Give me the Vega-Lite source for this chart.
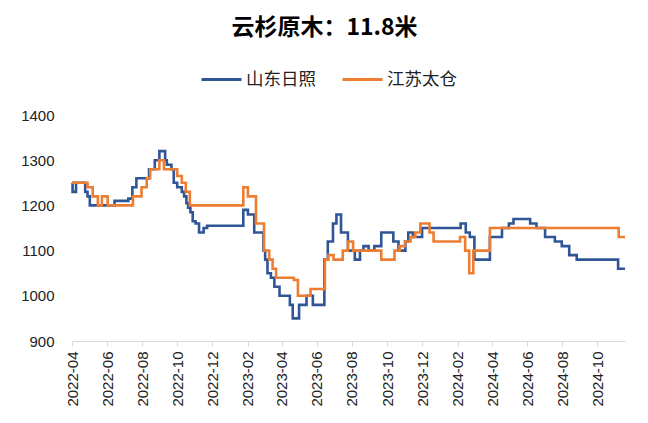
{
  "$schema": "https://vega.github.io/schema/vega-lite/v6.json",
  "width": 553,
  "height": 226,
  "autosize": {"type": "none"},
  "padding": {"left": 72, "top": 115, "right": 23, "bottom": 82},
  "background": "white",
  "title": {"text": "云杉原木：11.8米", "font": "Noto Sans CJK SC", "fontSize": 23, "fontWeight": "bold", "color": "#000000", "anchor": "middle", "dx": -24, "offset": 18},
  "config": {"view": {"stroke": null}},
  "data": {"values": [
    {"d": "2022-04-01", "v": 1250, "s": "山东日照"},
    {"d": "2022-04-02", "v": 1230, "s": "山东日照"},
    {"d": "2022-04-08", "v": 1250, "s": "山东日照"},
    {"d": "2022-04-24", "v": 1230, "s": "山东日照"},
    {"d": "2022-04-28", "v": 1220, "s": "山东日照"},
    {"d": "2022-05-02", "v": 1200, "s": "山东日照"},
    {"d": "2022-06-14", "v": 1210, "s": "山东日照"},
    {"d": "2022-07-08", "v": 1215, "s": "山东日照"},
    {"d": "2022-07-15", "v": 1240, "s": "山东日照"},
    {"d": "2022-07-22", "v": 1260, "s": "山东日照"},
    {"d": "2022-08-13", "v": 1280, "s": "山东日照"},
    {"d": "2022-08-23", "v": 1300, "s": "山东日照"},
    {"d": "2022-08-31", "v": 1320, "s": "山东日照"},
    {"d": "2022-09-10", "v": 1300, "s": "山东日照"},
    {"d": "2022-09-13", "v": 1290, "s": "山东日照"},
    {"d": "2022-09-21", "v": 1280, "s": "山东日照"},
    {"d": "2022-09-25", "v": 1250, "s": "山东日照"},
    {"d": "2022-10-01", "v": 1240, "s": "山东日照"},
    {"d": "2022-10-09", "v": 1230, "s": "山东日照"},
    {"d": "2022-10-13", "v": 1220, "s": "山东日照"},
    {"d": "2022-10-17", "v": 1205, "s": "山东日照"},
    {"d": "2022-10-20", "v": 1195, "s": "山东日照"},
    {"d": "2022-10-24", "v": 1185, "s": "山东日照"},
    {"d": "2022-10-28", "v": 1165, "s": "山东日照"},
    {"d": "2022-11-02", "v": 1160, "s": "山东日照"},
    {"d": "2022-11-08", "v": 1140, "s": "山东日照"},
    {"d": "2022-11-16", "v": 1150, "s": "山东日照"},
    {"d": "2022-11-22", "v": 1155, "s": "山东日照"},
    {"d": "2023-01-24", "v": 1190, "s": "山东日照"},
    {"d": "2023-02-01", "v": 1180, "s": "山东日照"},
    {"d": "2023-02-12", "v": 1140, "s": "山东日照"},
    {"d": "2023-02-28", "v": 1100, "s": "山东日照"},
    {"d": "2023-03-03", "v": 1080, "s": "山东日照"},
    {"d": "2023-03-07", "v": 1050, "s": "山东日照"},
    {"d": "2023-03-13", "v": 1040, "s": "山东日照"},
    {"d": "2023-03-19", "v": 1020, "s": "山东日照"},
    {"d": "2023-03-28", "v": 1000, "s": "山东日照"},
    {"d": "2023-04-15", "v": 980, "s": "山东日照"},
    {"d": "2023-04-20", "v": 950, "s": "山东日照"},
    {"d": "2023-05-01", "v": 980, "s": "山东日照"},
    {"d": "2023-05-14", "v": 1000, "s": "山东日照"},
    {"d": "2023-05-25", "v": 980, "s": "山东日照"},
    {"d": "2023-06-14", "v": 1080, "s": "山东日照"},
    {"d": "2023-06-20", "v": 1120, "s": "山东日照"},
    {"d": "2023-06-29", "v": 1160, "s": "山东日照"},
    {"d": "2023-07-05", "v": 1180, "s": "山东日照"},
    {"d": "2023-07-13", "v": 1140, "s": "山东日照"},
    {"d": "2023-07-25", "v": 1100, "s": "山东日照"},
    {"d": "2023-08-06", "v": 1080, "s": "山东日照"},
    {"d": "2023-08-15", "v": 1100, "s": "山东日照"},
    {"d": "2023-08-21", "v": 1110, "s": "山东日照"},
    {"d": "2023-08-30", "v": 1100, "s": "山东日照"},
    {"d": "2023-09-09", "v": 1110, "s": "山东日照"},
    {"d": "2023-09-21", "v": 1140, "s": "山东日照"},
    {"d": "2023-10-12", "v": 1120, "s": "山东日照"},
    {"d": "2023-10-21", "v": 1100, "s": "山东日照"},
    {"d": "2023-11-02", "v": 1120, "s": "山东日照"},
    {"d": "2023-11-07", "v": 1140, "s": "山东日照"},
    {"d": "2023-11-15", "v": 1130, "s": "山东日照"},
    {"d": "2023-12-01", "v": 1150, "s": "山东日照"},
    {"d": "2024-02-06", "v": 1160, "s": "山东日照"},
    {"d": "2024-02-15", "v": 1140, "s": "山东日照"},
    {"d": "2024-02-22", "v": 1130, "s": "山东日照"},
    {"d": "2024-03-01", "v": 1080, "s": "山东日照"},
    {"d": "2024-03-28", "v": 1130, "s": "山东日照"},
    {"d": "2024-04-18", "v": 1150, "s": "山东日照"},
    {"d": "2024-04-30", "v": 1160, "s": "山东日照"},
    {"d": "2024-05-08", "v": 1170, "s": "山东日照"},
    {"d": "2024-06-06", "v": 1160, "s": "山东日照"},
    {"d": "2024-06-17", "v": 1150, "s": "山东日照"},
    {"d": "2024-07-02", "v": 1130, "s": "山东日照"},
    {"d": "2024-07-19", "v": 1120, "s": "山东日照"},
    {"d": "2024-07-31", "v": 1110, "s": "山东日照"},
    {"d": "2024-08-13", "v": 1090, "s": "山东日照"},
    {"d": "2024-08-26", "v": 1080, "s": "山东日照"},
    {"d": "2024-11-06", "v": 1060, "s": "山东日照"},
    {"d": "2024-11-18", "v": 1060, "s": "山东日照"},
    {"d": "2022-04-01", "v": 1250, "s": "江苏太仓"},
    {"d": "2022-04-28", "v": 1240, "s": "江苏太仓"},
    {"d": "2022-05-07", "v": 1220, "s": "江苏太仓"},
    {"d": "2022-05-16", "v": 1200, "s": "江苏太仓"},
    {"d": "2022-05-23", "v": 1220, "s": "江苏太仓"},
    {"d": "2022-06-02", "v": 1200, "s": "江苏太仓"},
    {"d": "2022-07-16", "v": 1220, "s": "江苏太仓"},
    {"d": "2022-07-31", "v": 1240, "s": "江苏太仓"},
    {"d": "2022-08-09", "v": 1260, "s": "江苏太仓"},
    {"d": "2022-08-15", "v": 1280, "s": "江苏太仓"},
    {"d": "2022-08-31", "v": 1300, "s": "江苏太仓"},
    {"d": "2022-09-08", "v": 1280, "s": "江苏太仓"},
    {"d": "2022-10-01", "v": 1265, "s": "江苏太仓"},
    {"d": "2022-10-09", "v": 1250, "s": "江苏太仓"},
    {"d": "2022-10-16", "v": 1230, "s": "江苏太仓"},
    {"d": "2022-10-23", "v": 1200, "s": "江苏太仓"},
    {"d": "2023-01-24", "v": 1240, "s": "江苏太仓"},
    {"d": "2023-02-01", "v": 1220, "s": "江苏太仓"},
    {"d": "2023-02-15", "v": 1160, "s": "江苏太仓"},
    {"d": "2023-03-01", "v": 1100, "s": "江苏太仓"},
    {"d": "2023-03-10", "v": 1080, "s": "江苏太仓"},
    {"d": "2023-03-16", "v": 1060, "s": "江苏太仓"},
    {"d": "2023-03-22", "v": 1040, "s": "江苏太仓"},
    {"d": "2023-04-22", "v": 1035, "s": "江苏太仓"},
    {"d": "2023-04-29", "v": 1000, "s": "江苏太仓"},
    {"d": "2023-05-21", "v": 1015, "s": "江苏太仓"},
    {"d": "2023-06-15", "v": 1080, "s": "江苏太仓"},
    {"d": "2023-06-21", "v": 1090, "s": "江苏太仓"},
    {"d": "2023-06-30", "v": 1080, "s": "江苏太仓"},
    {"d": "2023-07-16", "v": 1100, "s": "江苏太仓"},
    {"d": "2023-07-25", "v": 1120, "s": "江苏太仓"},
    {"d": "2023-08-03", "v": 1100, "s": "江苏太仓"},
    {"d": "2023-09-21", "v": 1080, "s": "江苏太仓"},
    {"d": "2023-10-14", "v": 1100, "s": "江苏太仓"},
    {"d": "2023-10-23", "v": 1110, "s": "江苏太仓"},
    {"d": "2023-11-01", "v": 1120, "s": "江苏太仓"},
    {"d": "2023-11-11", "v": 1130, "s": "江苏太仓"},
    {"d": "2023-11-19", "v": 1140, "s": "江苏太仓"},
    {"d": "2023-11-28", "v": 1160, "s": "江苏太仓"},
    {"d": "2023-12-14", "v": 1140, "s": "江苏太仓"},
    {"d": "2023-12-21", "v": 1120, "s": "江苏太仓"},
    {"d": "2024-02-05", "v": 1130, "s": "江苏太仓"},
    {"d": "2024-02-14", "v": 1100, "s": "江苏太仓"},
    {"d": "2024-02-21", "v": 1050, "s": "江苏太仓"},
    {"d": "2024-02-28", "v": 1100, "s": "江苏太仓"},
    {"d": "2024-03-28", "v": 1150, "s": "江苏太仓"},
    {"d": "2024-11-07", "v": 1130, "s": "江苏太仓"},
    {"d": "2024-11-18", "v": 1130, "s": "江苏太仓"}
  ]},
  "mark": {"type": "line", "interpolate": "step-after", "strokeWidth": 2.6},
  "encoding": {
    "x": {
      "field": "d", "type": "temporal",
      "scale": {"type": "utc", "domain": [{"year": 2022, "month": 4, "date": 1, "utc": true}, {"year": 2024, "month": 11, "date": 18, "utc": true}]},
      "axis": {
        "title": null, "grid": false,
        "values": [
          {"year": 2022, "month": 4, "date": 1, "utc": true},
          {"year": 2022, "month": 6, "date": 1, "utc": true},
          {"year": 2022, "month": 8, "date": 1, "utc": true},
          {"year": 2022, "month": 10, "date": 1, "utc": true},
          {"year": 2022, "month": 12, "date": 1, "utc": true},
          {"year": 2023, "month": 2, "date": 1, "utc": true},
          {"year": 2023, "month": 4, "date": 1, "utc": true},
          {"year": 2023, "month": 6, "date": 1, "utc": true},
          {"year": 2023, "month": 8, "date": 1, "utc": true},
          {"year": 2023, "month": 10, "date": 1, "utc": true},
          {"year": 2023, "month": 12, "date": 1, "utc": true},
          {"year": 2024, "month": 2, "date": 1, "utc": true},
          {"year": 2024, "month": 4, "date": 1, "utc": true},
          {"year": 2024, "month": 6, "date": 1, "utc": true},
          {"year": 2024, "month": 8, "date": 1, "utc": true},
          {"year": 2024, "month": 10, "date": 1, "utc": true}
        ],
        "labelExpr": "utcFormat(datum.value, '%Y-%m')",
        "labelAngle": -90, "labelAlign": "right", "labelBaseline": "middle", "labelFont": "Liberation Sans", "labelFontSize": 15, "labelColor": "#222222", "labelPadding": 5, "domainColor": "#d9d9d9", "domainWidth": 1, "tickColor": "#d9d9d9", "tickSize": 5, "labelFlush": false, "labelOverlap": false}
    },
    "y": {
      "field": "v", "type": "quantitative",
      "scale": {"domain": [900, 1400], "nice": false, "zero": false},
      "axis": {"title": null, "grid": false, "domain": false, "ticks": false, "format": "d", "values": [900, 1000, 1100, 1200, 1300, 1400], "labelFont": "Liberation Sans", "labelFontSize": 15, "labelColor": "#222222", "labelPadding": 18}
    },
    "color": {
      "field": "s", "type": "nominal",
      "scale": {"domain": ["山东日照", "江苏太仓"], "range": ["#2F5597", "#ED7D31"]},
      "legend": {"title": null, "orient": "none", "legendX": 128, "legendY": -57, "direction": "horizontal", "symbolType": "stroke", "symbolSize": 1600, "symbolStrokeWidth": 3, "labelFont": "Noto Sans CJK SC", "labelFontSize": 17.5, "labelColor": "#222222", "labelOffset": 3, "columnPadding": 20}
    }
  }
}
